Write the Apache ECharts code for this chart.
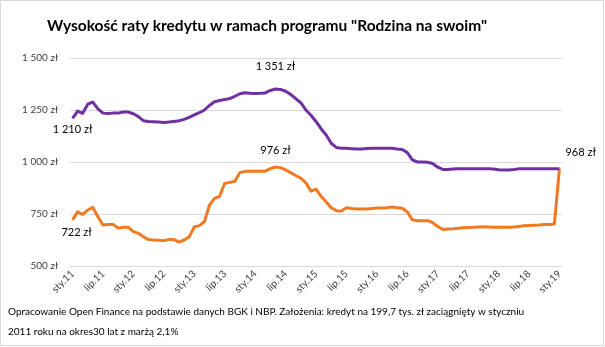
<!DOCTYPE html>
<html>
<head>
<meta charset="utf-8">
<script src="https://cdn.jsdelivr.net/npm/echarts@6/dist/echarts.min.js"></script>
<style>
html,body{margin:0;padding:0;background:#fff;}
#c{width:605px;height:347px;}
</style>
</head>
<body>
<div id="c"></div>
<script>
var monthNames = ['sty','lut','mar','kwi','maj','cze','lip','sie','wrz','paź','lis','gru'];
var years = ['11','12','13','14','15','16','17','18','19'];
var categories = [];
years.forEach(function(y){ monthNames.forEach(function(m){ if (categories.length < 97) categories.push(m + '.' + y); }); });

var yTicks = [500, 750, 1000, 1250, 1500];

var rataPurple = [
 1210,1245,1234,1278,1288,1255,1235,1233,1235,1235,
 1240,1240,1232,1218,1198,1195,1194,1192,1190,1192,
 1195,1198,1205,1215,1226,1237,1250,1272,1290,1296,
 1300,1305,1316,1328,1333,1330,1329,1330,1332,1344,
 1351,1349,1340,1325,1305,1285,1250,1225,1195,1160,
 1130,1090,1070,1066,1066,1064,1062,1063,1065,1066,
 1066,1066,1066,1066,1062,1060,1045,1010,1000,1000,
 999,993,975,964,964,966,967,967,967,967,
 967,967,967,966,963,962,962,964,967,967,
 968,968,968,968,968,968,968
];
var rataOrange = [
 722,760,748,769,782,737,697,700,700,682,
 686,686,665,657,640,627,625,624,622,627,
 627,615,625,640,688,694,713,793,825,835,
 897,902,907,949,955,955,955,955,956,968,
 976,973,962,949,935,922,900,860,870,835,
 808,780,766,764,780,776,774,774,774,776,
 779,779,780,784,780,778,760,722,718,718,
 718,708,690,676,678,679,681,684,685,686,
 688,689,687,686,686,686,686,687,690,693,
 695,696,697,699,700,702,968
];

var titleText = 'Wysokość raty kredytu w ramach programu "Rodzina na swoim"';
var footerLines = [
 'Opracowanie Open Finance na podstawie danych BGK i NBP. Założenia: kredyt na 199,7 tys. zł zaciągnięty w styczniu',
 '2011 roku na okres30 lat z marżą 2,1%'
];

function fmt(v){ var s = String(v); if (s.length > 3) s = s.slice(0, s.length-3) + ' ' + s.slice(-3); return s + ' zł'; }

var lblStyle = {show:true, color:'#000', fontSize:11, fontFamily:'Lato', formatter:function(p){return fmt(p.value);}};

function buildData(vals, labelMap){
  return vals.map(function(v,i){
    if (labelMap[i]) return {value:v, label:Object.assign({}, lblStyle, labelMap[i])};
    return v;
  });
}

var purpleLabels = {};
purpleLabels[0] = {position:'bottom', distance:6};
purpleLabels[40] = {position:'top', distance:17};
purpleLabels[96] = {position:'right', distance:6, offset:[0,-16]};
var orangeLabels = {};
orangeLabels[0] = {position:'bottom', distance:7, offset:[4,0]};
orangeLabels[40] = {position:'top', distance:11};

var chart = echarts.init(document.getElementById('c'), null, {renderer:'canvas'});
chart.setOption({
  animation:false,
  backgroundColor:'#fff',
  title:{
    text:titleText, left:42, top:13,
    textStyle:{fontFamily:'Lato', fontWeight:'bold', fontSize:15.5, color:'#000'}
  },
  grid:{left:70, right:43, top:58, bottom:81, containLabel:false},
  xAxis:{
    type:'category', data:categories, boundaryGap:true,
    axisLine:{show:true, lineStyle:{color:'#d9d9d9'}},
    axisTick:{show:false},
    axisLabel:{interval:5, rotate:45, fontSize:10, fontFamily:'Lato', color:'#404040', margin:6}
  },
  yAxis:{
    type:'value', min:yTicks[0], max:yTicks[yTicks.length-1], interval:250,
    axisLine:{show:false}, axisTick:{show:false},
    splitLine:{lineStyle:{color:'#d9d9d9'}},
    axisLabel:{fontSize:10, fontFamily:'Lato', color:'#404040', margin:12, formatter:function(v){return fmt(v);}}
  },
  series:[
    {type:'line', data:buildData(rataPurple, purpleLabels), symbol:'circle', symbolSize:0, showSymbol:true,
     lineStyle:{color:'#7030A0', width:3, join:'round'}, itemStyle:{color:'#7030A0'}, z:3},
    {type:'line', data:buildData(rataOrange, orangeLabels), symbol:'circle', symbolSize:0, showSymbol:true,
     lineStyle:{color:'#F07A22', width:3, join:'round'}, itemStyle:{color:'#F07A22'}, z:2}
  ],
  graphic:[
    {type:'rect', shape:{x:0.5, y:0.5, width:603, height:345}, style:{fill:'none', stroke:'#d9d9d9', lineWidth:1}, silent:true},
    {type:'text', left:8, top:302, style:{text:footerLines.join('\n'), font:'10px Lato', fill:'#000', lineHeight:20}}
  ]
});
</script>
</body>
</html>
